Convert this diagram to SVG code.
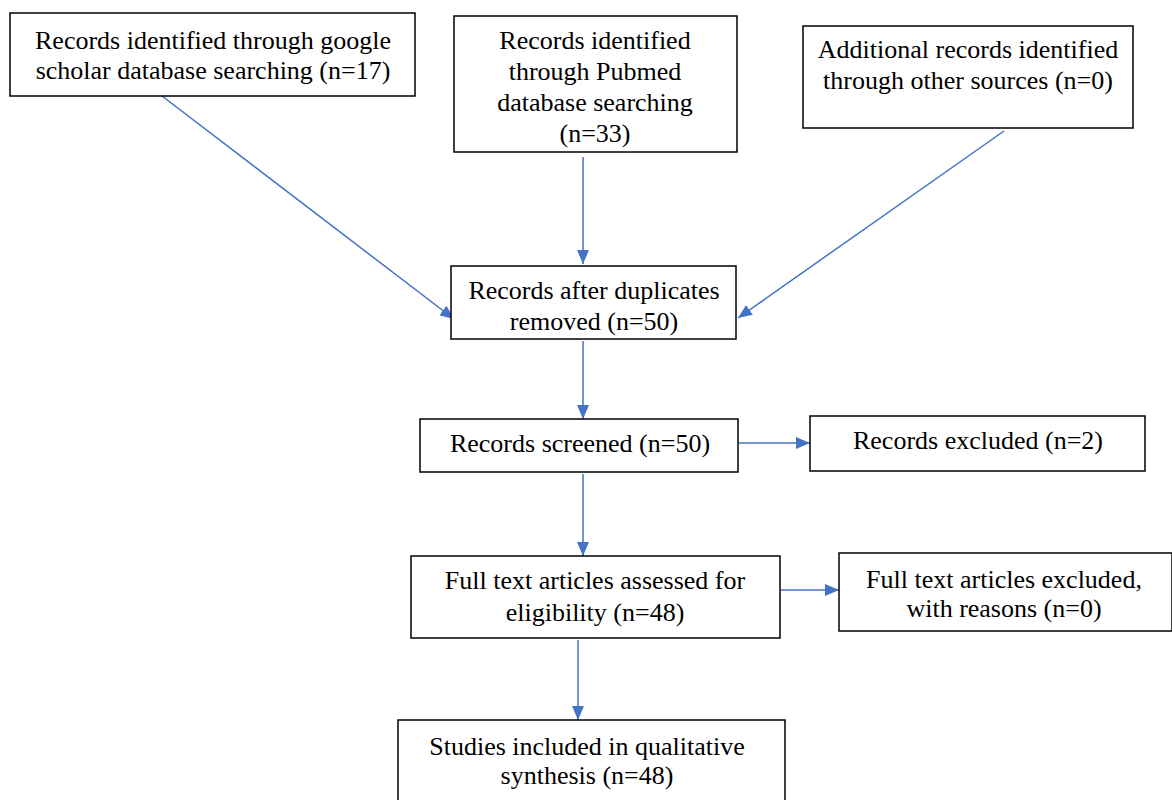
<svg xmlns="http://www.w3.org/2000/svg" width="1172" height="800" viewBox="0 0 1172 800">
<style>
.box{fill:#fff;stroke:#000;stroke-width:1.5}
.t{font-family:"Liberation Serif","Times New Roman",serif;font-size:26px;fill:#000;text-anchor:middle}
.c{stroke:#4472C4;stroke-width:1.5;fill:none;marker-end:url(#a)}
</style>
<defs>
<marker id="a" viewBox="0 0 10 10" refX="10" refY="5" markerWidth="14" markerHeight="12" markerUnits="userSpaceOnUse" orient="auto" preserveAspectRatio="none">
<path d="M0,0L10,5L0,10z" fill="#4472C4"/>
</marker>
</defs>
<rect width="1172" height="800" fill="#fff"/>
<g id="connectors">
<line class="c" x1="162" y1="96" x2="454" y2="319"/>
<line class="c" x1="583" y1="157" x2="583" y2="264"/>
<line class="c" x1="1004" y1="131" x2="738" y2="318"/>
<line class="c" x1="583" y1="341" x2="583" y2="419"/>
<line class="c" x1="739" y1="443" x2="810" y2="443"/>
<line class="c" x1="583" y1="474" x2="583" y2="556"/>
<line class="c" x1="781" y1="590" x2="839" y2="590"/>
<line class="c" x1="578" y1="640" x2="578" y2="720"/>
</g>
<g id="n1"><rect class="box" x="10" y="13" width="405" height="83"/>
<text class="t" x="213" y="49">Records identified through google</text>
<text class="t" x="213" y="79">scholar database searching (n=17)</text></g>
<g id="n2"><rect class="box" x="454" y="16" width="283" height="136"/>
<text class="t" x="595" y="49">Records identified</text>
<text class="t" x="595" y="80">through Pubmed</text>
<text class="t" x="595" y="111">database searching</text>
<text class="t" x="595" y="142">(n=33)</text></g>
<g id="n3"><rect class="box" x="803" y="26" width="330" height="102"/>
<text class="t" x="968" y="58">Additional records identified</text>
<text class="t" x="968" y="89">through other sources (n=0)</text></g>
<g id="n4"><rect class="box" x="451" y="266" width="285" height="73"/>
<text class="t" x="594" y="299">Records after duplicates</text>
<text class="t" x="594" y="330">removed (n=50)</text></g>
<g id="n5"><rect class="box" x="420" y="419" width="318" height="53"/>
<text class="t" x="580" y="452">Records screened (n=50)</text></g>
<g id="n6"><rect class="box" x="810" y="416" width="335" height="55"/>
<text class="t" x="978" y="449">Records excluded (n=2)</text></g>
<g id="n7"><rect class="box" x="411" y="556" width="369" height="82"/>
<text class="t" x="595" y="589">Full text articles assessed for</text>
<text class="t" x="595" y="621">eligibility (n=48)</text></g>
<g id="n8"><rect class="box" x="839" y="553" width="333" height="78"/>
<text class="t" x="1004" y="588">Full text articles excluded,</text>
<text class="t" x="1004" y="617">with reasons (n=0)</text></g>
<g id="n9"><rect class="box" x="398" y="720" width="387" height="90"/>
<text class="t" x="587" y="755">Studies included in qualitative</text>
<text class="t" x="587" y="784">synthesis (n=48)</text></g>
</svg>
